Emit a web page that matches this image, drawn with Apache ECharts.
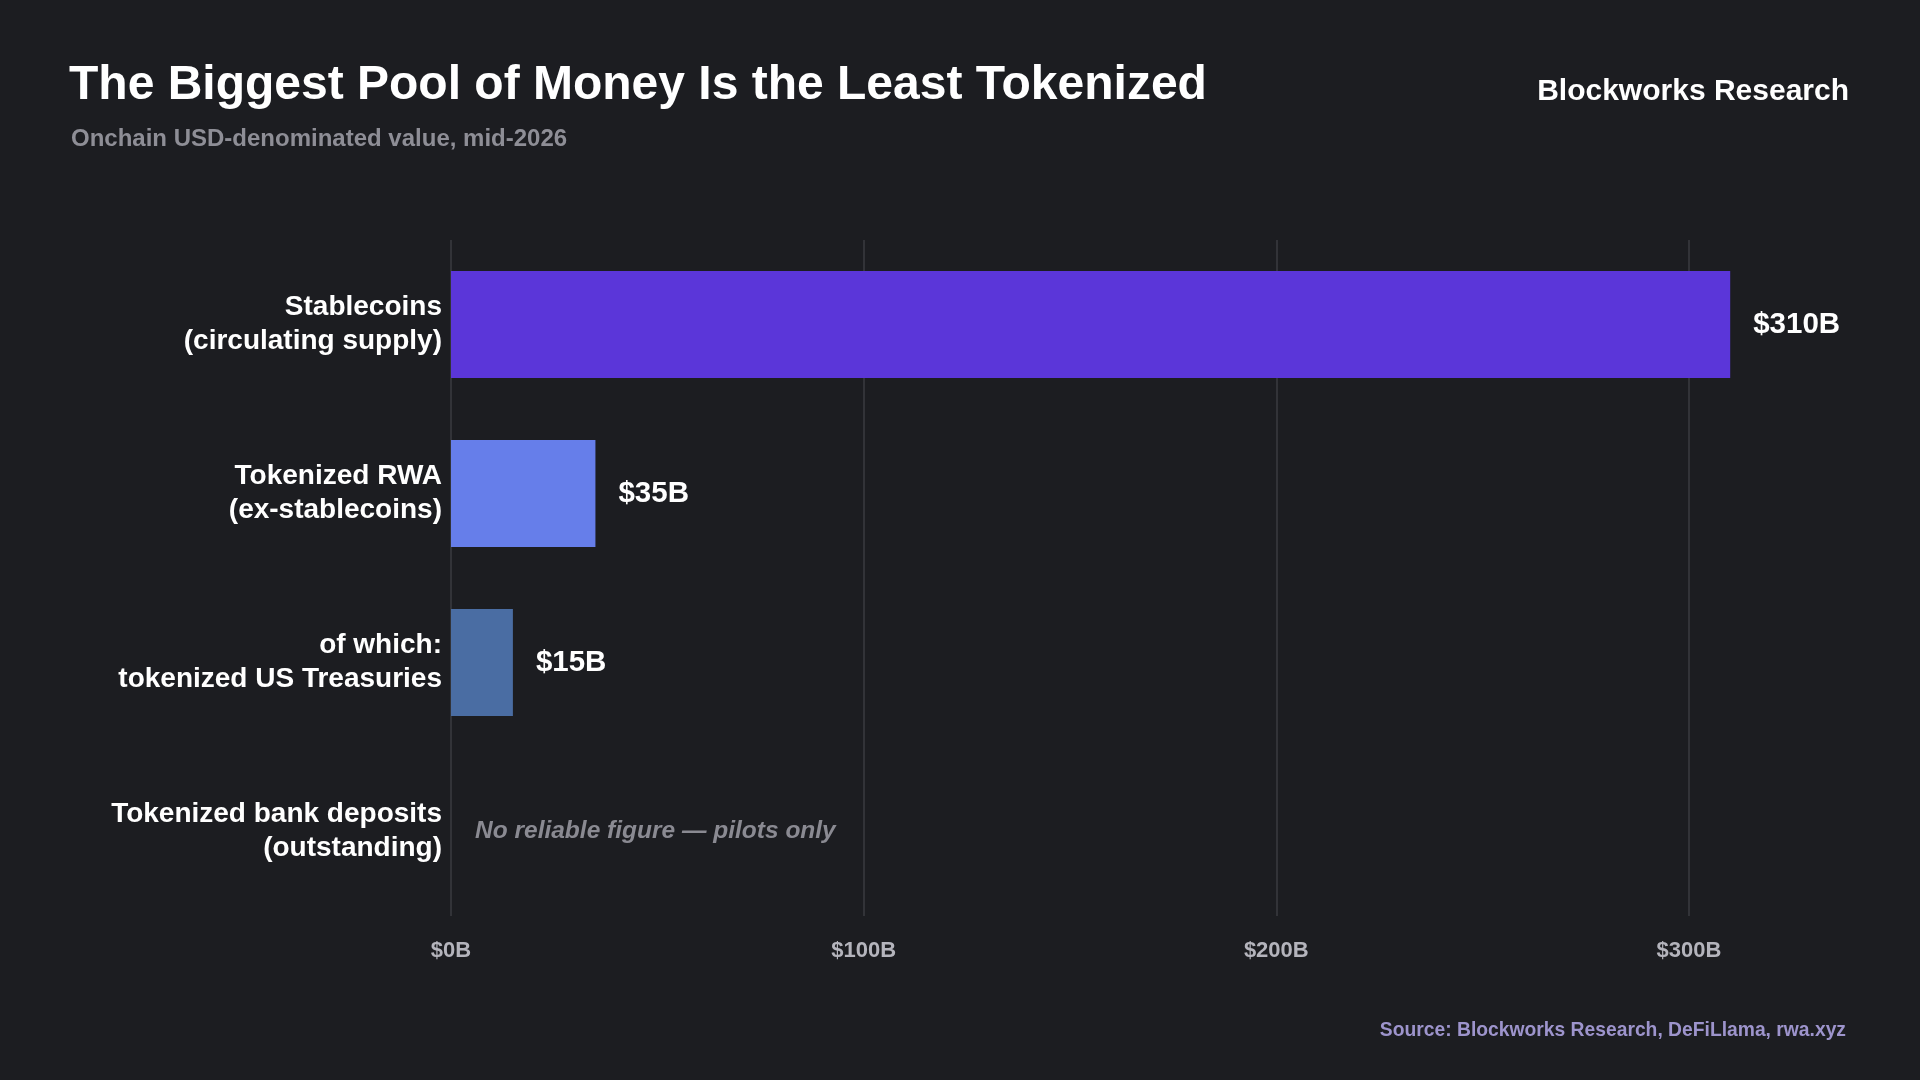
<!DOCTYPE html>
<html lang="en">
  <head>
    <meta charset="UTF-8" />
    <title>Tokenized money</title>
    <style>
      html, body { margin: 0; background: #1c1d21; }
      #chart { width: 1920px; height: 1080px; }
    </style>
  </head>
  <body>
    <div id="chart"></div>
    <script src="https://cdn.jsdelivr.net/npm/echarts@6.0.0/dist/echarts.min.js"></script>
    <script>
      const categories = [
        "Stablecoins\n(circulating supply)",
        "Tokenized RWA\n(ex-stablecoins)",
        "of which:\ntokenized US Treasuries",
        "Tokenized bank deposits\n(outstanding)"
      ];
      const values = [310, 35, 15, 0];
      const valueLabels = ["$310B", "$35B", "$15B", "No reliable figure — pilots only"];
      const barColors = ["#5b36d9", "#667eea", "#4a6da3", "#4a6da3"];
      const tickLabels = { 0: "$0B", 100: "$100B", 200: "$200B", 300: "$300B" };

      const font = "'Liberation Sans', Arial, sans-serif";
      const chart = echarts.init(document.getElementById("chart"));

      const option = {
        backgroundColor: "#1c1d21",
        animation: false,
        textStyle: { fontFamily: font },
        title: [
          {
            text: "The Biggest Pool of Money Is the Least Tokenized",
            left: 64, top: 57,
            textStyle: { color: "#ffffff", fontSize: 48, fontWeight: "bold", fontFamily: font }
          },
          {
            text: "Onchain USD-denominated value, mid-2026",
            left: 66, top: 122,
            textStyle: { color: "#8e8e96", fontSize: 24, fontWeight: "bold", fontFamily: font }
          },
          {
            text: "Blockworks Research",
            right: 66, top: 72,
            textStyle: { color: "#ffffff", fontSize: 30, fontWeight: "bold", fontFamily: font }
          },
          {
            text: "Source: Blockworks Research, DeFiLlama, rwa.xyz",
            right: 69, top: 1016,
            textStyle: { color: "#9d94cc", fontSize: 19.3, fontWeight: "bold", fontFamily: font }
          }
        ],
        grid: { left: 451, right: 66, top: 240, bottom: 164 },
        xAxis: {
          type: "value",
          min: 0, max: 340, interval: 100,
          axisLine: { show: false },
          axisTick: { show: false },
          splitLine: { showMaxLine: false, lineStyle: { color: "#3a3b41", width: 1.5 } },
          axisLabel: {
            showMaxLabel: false,
            margin: 24,
            color: "#b4b4bc", fontSize: 22, fontWeight: "bold",
            formatter: (v) => tickLabels[v] || ""
          }
        },
        yAxis: {
          type: "category",
          inverse: true,
          data: categories,
          axisLine: { show: false },
          axisTick: { show: false },
          axisLabel: {
            margin: 9,
            color: "#ffffff", fontSize: 28, fontWeight: "bold", lineHeight: 34, align: "right"
          }
        },
        series: [
          {
            type: "bar",
            barWidth: 107,
            data: values.map((v, i) => ({
              value: v,
              itemStyle: { color: barColors[i] },
              label: i === 3
                ? { show: true, position: "right", distance: 24, formatter: valueLabels[i],
                    color: "#8a8a92", fontSize: 24.5, fontWeight: "bold", fontStyle: "italic" }
                : { show: true, position: "right", distance: 23, formatter: valueLabels[i],
                    color: "#ffffff", fontSize: 29.5, fontWeight: "bold" }
            }))
          }
        ]
      };
      chart.setOption(option);
    </script>
  </body>
</html>
